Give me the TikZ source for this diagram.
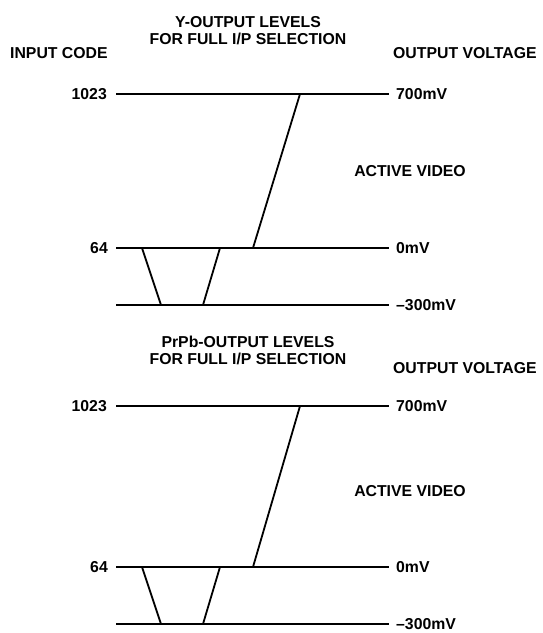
\documentclass[tikz,border=0pt]{standalone}
\usepackage{fontspec}
\setmainfont{Liberation Sans}
\usepackage{tikz}
\usetikzlibrary{positioning}

\begin{document}
\begin{tikzpicture}[x=1pt,y=-1pt,
    lbl/.style={font=\bfseries\fontsize{15.8}{17.4}\selectfont,inner sep=0pt},
    level/.style={line width=1.3pt},
    signal/.style={line width=1.8pt,line join=miter}]
  \useasboundingbox (0,0) rectangle (543,633);

  % input code heading (top chart only)
  \node[lbl,anchor=west] (incode) at (10,53) {INPUT CODE};

  % the two level charts
  \foreach \p/\name/\tty/\vy/\hi/\zr/\lo/\avy in
      {y/Y/30.5/53/94/248/305/171, c/PrPb/350.5/368/406/567/624/491}{
    % headings
    \node[lbl,align=center] (\p-title) at (248,\tty)
      {\name-OUTPUT LEVELS\\FOR FULL I/P SELECTION};
    \node[lbl,anchor=west] (\p-volt) at (393,\vy) {OUTPUT VOLTAGE};
    \node[lbl] (\p-active) at (410,\avy) {ACTIVE VIDEO};

    % code and voltage labels
    \node[lbl,anchor=east] (\p-c1023) at (107,\hi) {1023};
    \node[lbl,anchor=east] (\p-c64) at (108,\zr) {64};
    \node[lbl,anchor=west] (\p-v700) at (396,\hi) {700mV};
    \node[lbl,anchor=west] (\p-v0) at (396,\zr) {0mV};
    \node[lbl,anchor=west] (\p-v300) at (396,\lo) {--300mV};

    % level lines
    \foreach \lv/\yy in {hi/\hi,zr/\zr,lo/\lo}{
      \coordinate (\p-\lv L) at (116,\yy);
      \coordinate (\p-\lv R) at (389,\yy);
      \draw[level] (\p-\lv L) -- (\p-\lv R);
    }

    % signal path: sync dip, then ramp up to peak
    \coordinate (\p-s1) at (142,\zr);
    \coordinate (\p-s2) at (161,\lo);
    \coordinate (\p-s3) at (203,\lo);
    \coordinate (\p-s4) at (220,\zr);
    \coordinate (\p-s5) at (253,\zr);
    \coordinate (\p-s6) at (300,\hi);
    \coordinate (\p-s7) at (343,\hi);
    \draw[signal] (\p-s1) -- (\p-s2) -- (\p-s3) -- (\p-s4)
      -- (\p-s5) -- (\p-s6) -- (\p-s7);
  }
\end{tikzpicture}
\end{document}
